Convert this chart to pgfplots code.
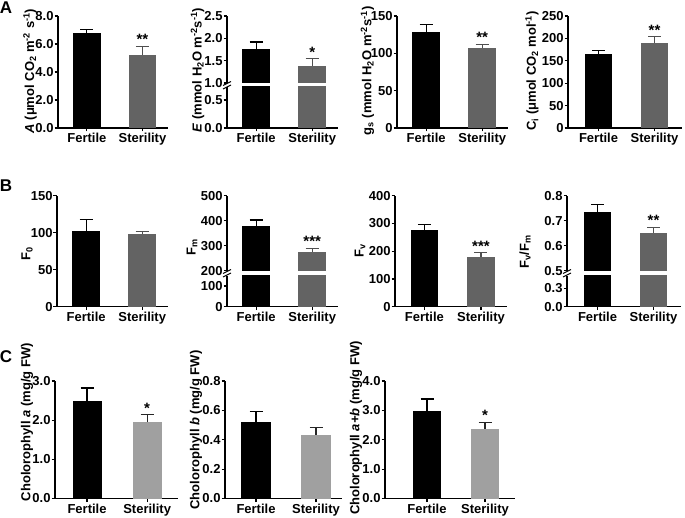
\documentclass[border=0pt]{standalone}
\usepackage{pgfplots}
\pgfplotsset{compat=1.18}
\usepackage{fontspec}
\setmainfont{Liberation Sans}
\newcommand{\fs}{\fontsize{13}{15}\selectfont\bfseries}
\definecolor{dgray}{RGB}{99,99,99}
\definecolor{lgray}{RGB}{160,160,160}
\pgfplotsset{
  panel/.style={
    scale only axis, anchor=south west, clip mode=individual,
    axis x line=bottom, axis y line=left,
    axis line style={-, line width=1.2pt},
    tick align=outside, major tick length=3.5pt,
    every tick/.append style={line width=1.2pt, black},
    xtick={0,1}, xticklabels={Fertile,Sterility},
    tick label style={font=\fs},
    xticklabel style={inner ysep=1.5pt},
    yticklabel style={inner xsep=0.8pt, /pgf/number format/assume math mode=true},
    xmin=-0.52, xmax=1.46, bar width=27.5pt,
  },
  dec1/.style={yticklabel style={/pgf/number format/.cd, fixed, fixed zerofill, precision=1}},
  upper/.style={panel, axis x line=none, xtick=\empty, xticklabels={}},
  eb/.style={error bars/y dir=plus, error bars/y explicit,
    error bars/error bar style={line width=1.2pt, #1},
    error bars/error mark options={rotate=90, mark size=6.5pt, line width=1.2pt, #1}},
  barF/.style={ybar, bar shift=0pt, fill=black, draw=none, eb=black},
  barS/.style={ybar, bar shift=0pt, fill=#1, draw=none, eb=#1!80!black},
}
\tikzset{star/.style={anchor=south, font=\fontsize{15}{16}\selectfont\bfseries, inner sep=1.2pt},
  lab/.style={rotate=90, font=\fs, inner sep=0pt},
  brk/.style={line width=1pt}}
\begin{document}
\begin{tikzpicture}
\useasboundingbox (0pt,0pt) rectangle (685pt,517pt);
% panel letters
\node[font=\fontsize{17}{19}\selectfont\bfseries] at (6pt,509pt) {A};
\node[font=\fontsize{17}{19}\selectfont\bfseries] at (6pt,331pt) {B};
\node[font=\fontsize{17}{19}\selectfont\bfseries] at (6pt,160pt) {C};

% ---------- A1
\begin{axis}[panel, dec1, at={(58pt,389pt)}, width=110pt, height=112pt,
  ymin=0, ymax=8.001, ytick={0,2,4,6,8}]
\addplot[barF] coordinates {(0,6.78) +- (0,0.25)};
\addplot[barS=dgray] coordinates {(1,5.25) +- (0,0.6)};
\node[star] at (axis cs:1,5.85) {**};
\end{axis}
\node[lab] at (30pt,446pt) {\textit{A} (μmol CO\textsubscript{2} m\textsuperscript{-2} s\textsuperscript{-1})};

% ---------- A2 (broken)
\begin{axis}[panel, dec1, at={(227pt,389pt)}, width=111pt, height=41pt,
  ymin=0, ymax=0.73, ytick={0,0.5}]
\addplot[ybar, bar shift=0pt, fill=black, draw=none] coordinates {(0,1.75)};
\addplot[ybar, bar shift=0pt, fill=dgray, draw=none] coordinates {(1,1.39)};
\end{axis}
\begin{axis}[upper, dec1, at={(227pt,434pt)}, width=111pt, height=67pt,
  ymin=0.9999, ymax=2.5001, ytick={1,1.5,2,2.5}]
\addplot[barF] coordinates {(0,1.75) +- (0,0.17)};
\addplot[barS=dgray] coordinates {(1,1.39) +- (0,0.16)};
\node[star] at (axis cs:1,1.55) {*};
\end{axis}
\draw[brk] (223pt,428pt) -- (231pt,432pt);
\draw[brk] (223pt,431.5pt) -- (231pt,435.5pt);
\node[lab] at (197.5pt,447pt) {\textit{E} (mmol H\textsubscript{2}O m\textsuperscript{-2}s\textsuperscript{-1})};

% ---------- A3
\begin{axis}[panel, at={(397pt,389pt)}, width=111pt, height=112pt,
  ymin=0, ymax=150, ytick={0,50,100,150}]
\addplot[barF] coordinates {(0,128) +- (0,11)};
\addplot[barS=dgray] coordinates {(1,107.6) +- (0,4.5)};
\node[star] at (axis cs:1,112.1) {**};
\end{axis}
\node[lab] at (367.5pt,446pt) {g\textsubscript{s} (mmol H\textsubscript{2}O m\textsuperscript{-2}s\textsuperscript{-1})};

% ---------- A4
\begin{axis}[panel, at={(568pt,389pt)}, width=114pt, height=112pt,
  xmin=-0.545, xmax=1.49,
  ymin=0, ymax=250, ytick={0,50,100,150,200,250}]
\addplot[barF] coordinates {(0,164.5) +- (0,8)};
\addplot[barS=dgray] coordinates {(1,190.4) +- (0,13.4)};
\node[star] at (axis cs:1,203.8) {**};
\end{axis}
\node[lab] at (532pt,446pt) {C\textsubscript{i} (μmol CO\textsubscript{2} mol\textsuperscript{-1})};

% ---------- B1
\begin{axis}[panel, at={(57pt,210.3pt)}, width=111pt, height=111pt,
  ymin=0, ymax=150, ytick={0,50,100,150}]
\addplot[barF] coordinates {(0,102.7) +- (0,15.3)};
\addplot[barS=dgray] coordinates {(1,97.8) +- (0,3.6)};
\end{axis}
\node[lab] at (27pt,263pt) {F\textsubscript{0}};

% ---------- B2 (broken)
\begin{axis}[panel, at={(227pt,210.3pt)}, width=111pt, height=31pt,
  ymin=0, ymax=150, ytick={0,100}]
\addplot[ybar, bar shift=0pt, fill=black, draw=none] coordinates {(0,378.8)};
\addplot[ybar, bar shift=0pt, fill=dgray, draw=none] coordinates {(1,276)};
\end{axis}
\begin{axis}[upper, at={(227pt,246.3pt)}, width=111pt, height=75pt,
  ymin=200, ymax=500, ytick={200,300,400,500}]
\addplot[barF] coordinates {(0,378.8) +- (0,24)};
\addplot[barS=dgray] coordinates {(1,276) +- (0,13.6)};
\node[star] at (axis cs:1,289.6) {***};
\end{axis}
\draw[brk] (223pt,240pt) -- (231pt,244pt);
\draw[brk] (223pt,243.5pt) -- (231pt,247.5pt);
\node[lab] at (192pt,270pt) {F\textsubscript{m}};

% ---------- B3
\begin{axis}[panel, at={(395pt,210.3pt)}, width=112pt, height=111pt,
  ymin=0, ymax=400, ytick={0,100,200,300,400}]
\addplot[barF] coordinates {(0,277.5) +- (0,19)};
\addplot[barS=dgray] coordinates {(1,179.6) +- (0,14.4)};
\node[star] at (axis cs:1,194) {***};
\end{axis}
\node[lab] at (360pt,266pt) {F\textsubscript{v}};

% ---------- B4 (broken)
\begin{axis}[panel, dec1, at={(567pt,210.3pt)}, width=114pt, height=31pt,
  xmin=-0.545, xmax=1.49,
  ymin=0, ymax=0.5, ytick={0,0.3}]
\addplot[ybar, bar shift=0pt, fill=black, draw=none] coordinates {(0,0.734)};
\addplot[ybar, bar shift=0pt, fill=dgray, draw=none] coordinates {(1,0.652)};
\end{axis}
\begin{axis}[upper, dec1, at={(567pt,246.3pt)}, width=114pt, height=75pt,
  xmin=-0.545, xmax=1.49,
  ymin=0.4999, ymax=0.8001, ytick={0.5,0.6,0.7,0.8}]
\addplot[barF] coordinates {(0,0.734) +- (0,0.032)};
\addplot[barS=dgray] coordinates {(1,0.652) +- (0,0.022)};
\node[star] at (axis cs:1,0.674) {**};
\end{axis}
\draw[brk] (563pt,240pt) -- (571pt,244pt);
\draw[brk] (563pt,243.5pt) -- (571pt,247.5pt);
\node[lab] at (525pt,265pt) {F\textsubscript{v}/F\textsubscript{m}};

% ---------- C1
\begin{axis}[panel, dec1, at={(55pt,18.5pt)}, width=123pt, height=117.5pt,
  xmin=-0.533, xmax=1.513, bar width=29pt,
  ymin=0, ymax=3.0001, ytick={0,1,2,3}]
\addplot[barF] coordinates {(0,2.50) +- (0,0.32)};
\addplot[ybar, bar shift=0pt, fill=lgray, draw=none, eb=black!85] coordinates {(1,1.95) +- (0,0.19)};
\node[star] at (axis cs:1,2.14) {*};
\end{axis}
\node[lab] at (27pt,95pt) {Cholorophyll \textit{a} (mg/g FW)};

% ---------- C2
\begin{axis}[panel, dec1, at={(225pt,18.5pt)}, width=117pt, height=117.5pt,
  xmin=-0.517, xmax=1.433, bar width=30pt,
  ymin=0, ymax=0.8001, ytick={0,0.2,0.4,0.6,0.8}]
\addplot[barF] coordinates {(0,0.52) +- (0,0.072)};
\addplot[ybar, bar shift=0pt, fill=lgray, draw=none, eb=black!85] coordinates {(1,0.435) +- (0,0.05)};
\end{axis}
\node[lab] at (196pt,87pt) {Cholorophyll \textit{b} (mg/g FW)};

% ---------- C3
\begin{axis}[panel, dec1, at={(385pt,18.5pt)}, width=130pt, height=117.5pt,
  xmin=-0.724, xmax=1.517, bar width=28pt,
  ymin=0, ymax=4.0001, ytick={0,1,2,3,4}]
\addplot[barF] coordinates {(0,2.98) +- (0,0.41)};
\addplot[ybar, bar shift=0pt, fill=lgray, draw=none, eb=black!85] coordinates {(1,2.38) +- (0,0.22)};
\node[star] at (axis cs:1,2.60) {*};
\end{axis}
\node[lab] at (356pt,89pt) {Cholorophyll \textit{a+b} (mg/g FW)};
\end{tikzpicture}
\end{document}
